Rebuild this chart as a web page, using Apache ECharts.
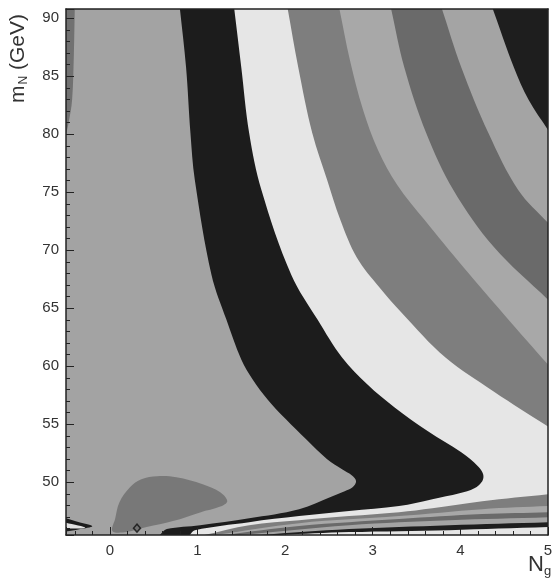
<!DOCTYPE html>
<html>
<head>
<meta charset="utf-8">
<title>N_g vs m_N</title>
<script src="https://cdn.jsdelivr.net/npm/echarts@6/dist/echarts.min.js"></script>
<style>
html, body { margin: 0; padding: 0; background: #fff; }
#main { width: 552px; height: 581px; }
</style>
</head>
<body>
<div id="main"></div>
<script>
// axis ranges: N_g (x) and m_N in GeV (y)
var ngRange = [-0.5, 5];
var mnRange = [45.45, 90.8];

// contour lines, [Ng, mN]
// 1 sigma island round the minimum (closed loop)
var sigma1 = [[0.03, 45.78], [0.06, 46.82], [0.11, 48.28], [0.23, 49.57], [0.36, 50.26], [0.54, 50.52],
  [0.76, 50.43], [1.06, 49.83], [1.26, 49.14], [1.34, 48.37], [1.26, 47.90], [1.03, 47.40],
  [0.72, 46.65], [0.42, 46.13], [0.19, 45.70]];
// the others start at the top edge and come back to the bottom edge
var sigma2 = [[0.80, 90.8], [0.87, 85.78], [0.92, 80.11], [0.97, 76.06], [1.16, 67.89], [1.33, 64.02],
  [1.50, 60.58], [1.63, 58.86], [1.80, 57.14], [2.01, 55.42], [2.24, 53.70], [2.48, 51.98],
  [2.65, 51.12], [2.76, 50.60], [2.81, 50.09], [2.77, 49.57], [2.68, 49.23], [2.54, 48.80],
  [2.16, 47.68], [1.59, 46.90], [1.03, 46.30], [0.65, 45.96], [0.57, 45.45]];
var sigma3 = [[1.42, 90.8], [1.50, 85.78], [1.59, 80.11], [1.73, 75.20], [2.07, 67.89], [2.37, 64.02],
  [2.65, 60.75], [2.94, 58.43], [3.25, 56.45], [3.63, 54.39], [4.01, 52.58], [4.20, 51.38],
  [4.26, 50.69], [4.25, 50.09], [4.16, 49.48], [3.99, 49.05], [3.68, 48.54], [3.30, 47.94],
  [2.73, 47.51], [2.16, 47.08], [1.59, 46.56], [0.97, 45.87], [0.91, 45.45]];
var sigma4 = [[2.03, 90.8], [2.15, 85.78], [2.31, 80.11], [2.48, 76.06], [2.63, 72.62], [2.82, 69.35],
  [3.08, 66.77], [3.33, 64.62], [3.83, 60.75], [4.38, 57.83], [5, 54.8], [5, 48.97],
  [4.25, 48.37], [3.68, 47.76], [3.30, 47.42], [2.73, 47.08], [2.16, 46.73], [1.59, 46.30], [1.08, 45.45]];
var sigma5 = [[2.62, 90.8], [2.74, 86.39], [2.89, 82.09], [3.06, 78.65], [3.28, 75.63], [3.59, 72.62],
  [4.04, 68.49], [4.50, 64.45], [5, 60.15], [5, 47.94], [4.25, 47.68], [3.30, 47.08], [2.16, 46.47], [1.20, 45.45]];
var sigma6 = [[3.21, 90.8], [3.36, 85.78], [3.61, 80.11], [3.92, 75.20], [4.38, 70.30], [5, 65.74],
  [5, 47.42], [4.25, 47.25], [3.30, 46.82], [2.16, 46.22], [1.31, 45.45]];
var sigma7 = [[3.79, 90.8], [4.01, 85.78], [4.32, 80.11], [4.66, 75.20], [5, 72.37],
  [5, 46.99], [3.87, 46.73], [2.73, 46.30], [1.48, 45.45]];
var sigma8 = [[4.37, 90.8], [4.61, 85.78], [4.78, 82.95], [5, 80.37],
  [5, 46.56], [3.87, 46.30], [2.73, 45.96], [1.71, 45.45]];
var sigma9 = [[5, 90.8], [5, 46.13], [3.87, 45.87], [2.73, 45.70], [1.94, 45.45]];

// bits along the left edge
var leftStrip = [[-0.5, 90.8], [-0.40, 90.8], [-0.41, 87], [-0.43, 83], [-0.47, 81], [-0.5, 80]];
var leftWedgeDark = [[-0.5, 46.9], [-0.35, 46.55], [-0.2, 46.2], [-0.35, 45.95], [-0.5, 45.75]];
var leftWedgeLight = [[-0.5, 46.5], [-0.28, 46.08], [-0.5, 46.0]];

var sigmaLabels = ['1 σ', '2 σ', '3 σ', '4 σ'];
var sigmaLabelPos = [[0.91, 48.37], [2.64, 50.26], [3.64, 50.26], [4.65, 50.26]];
var bestFit = [0.31, 46.04];

// fills, outermost first
var openContours = [sigma9, sigma8, sigma7, sigma6, sigma5, sigma4, sigma3, sigma2];
var openColors = ['#1e1e1e', '#a4a4a4', '#6a6a6a', '#a8a8a8', '#7e7e7e', '#e6e6e6', '#1c1c1c', '#a3a3a3'];
var labelColors = ['#555', '#5c5c5c', '#3c3c3c', '#707070'];

var layers = [];
openContours.forEach(function (c, i) {
  layers.push({ pts: c.concat([[ngRange[0], mnRange[0]], [ngRange[0], mnRange[1]]]), fill: openColors[i] });
});
layers.push({ pts: sigma1, fill: '#787878' });
layers.push({ pts: leftStrip, fill: '#717171' });
layers.push({ pts: leftWedgeDark, fill: '#1c1c1c' });
layers.push({ pts: leftWedgeLight, fill: '#e2e2e2' });

function onFrame(p) {
  return p[0] <= ngRange[0] || p[0] >= ngRange[1] || p[1] <= mnRange[0] || p[1] >= mnRange[1];
}

function renderLayer(params, api) {
  var layer = layers[params.dataIndex];
  var pts = [];
  layer.pts.forEach(function (p) {
    var c = api.coord(p);
    pts.push(c);
    // doubled points keep the corners on the frame sharp when smoothing
    if (onFrame(p)) pts.push([c[0], c[1]]);
  });
  return {
    type: 'polygon',
    z2: params.dataIndex,
    shape: { points: pts, smooth: 0.35 },
    style: { fill: layer.fill, stroke: null }
  };
}

var axisColor = '#222';
var labelFont = 'Liberation Sans, Arial, sans-serif';

var myChart = echarts.init(document.getElementById('main'), null, { renderer: 'canvas' });
myChart.setOption({
  animation: false,
  backgroundColor: '#fff',
  grid: {
    left: 66, right: 4, top: 9, bottom: 46,
    outerBoundsMode: 'none',
    show: true, backgroundColor: '#e6e6e6', borderWidth: 0
  },
  xAxis: [
    {
      type: 'value', min: ngRange[0], max: ngRange[1], splitNumber: 5, position: 'bottom', z: 10,
      axisLine: { show: true, onZero: false, lineStyle: { color: axisColor, width: 1.5 } },
      axisTick: { show: true, inside: true, length: 8, lineStyle: { color: axisColor, width: 1 } },
      minorTick: { show: true, splitNumber: 5, length: 4, lineStyle: { color: axisColor, width: 1 } },
      splitLine: { show: false },
      axisLabel: {
        color: '#333', fontSize: 15, fontFamily: labelFont, margin: 8,
        formatter: function (v) { return Math.abs(v - Math.round(v)) < 1e-6 ? String(Math.round(v)) : ''; }
      }
    },
    {
      type: 'value', min: ngRange[0], max: ngRange[1], position: 'top', z: 10,
      axisLine: { show: true, onZero: false, lineStyle: { color: axisColor, width: 1.5 } },
      axisTick: { show: false }, axisLabel: { show: false }, splitLine: { show: false }
    }
  ],
  yAxis: [
    {
      type: 'value', min: mnRange[0], max: mnRange[1], splitNumber: 9, position: 'left', z: 10,
      axisLine: { show: true, onZero: false, lineStyle: { color: axisColor, width: 1.5 } },
      axisTick: { show: true, inside: true, length: 8, lineStyle: { color: axisColor, width: 1 } },
      minorTick: { show: true, splitNumber: 5, length: 4, lineStyle: { color: axisColor, width: 1 } },
      splitLine: { show: false },
      axisLabel: {
        color: '#333', fontSize: 15, fontFamily: labelFont, margin: 7,
        formatter: function (v) { return Math.abs(v / 5 - Math.round(v / 5)) < 1e-6 ? String(Math.round(v)) : ''; }
      }
    },
    {
      type: 'value', min: mnRange[0], max: mnRange[1], position: 'right', z: 10,
      axisLine: { show: true, onZero: false, lineStyle: { color: axisColor, width: 1.5 } },
      axisTick: { show: false }, axisLabel: { show: false }, splitLine: { show: false }
    }
  ],
  graphic: [
    {
      type: 'text', x: 30, y: 103, rotation: Math.PI / 2, z: 20,
      style: {
        text: '{m|m}{s|N}{m| (GeV)}',
        textAlign: 'left', textVerticalAlign: 'bottom', fill: '#333',
        rich: {
          m: { fontSize: 21, lineHeight: 24, fontFamily: labelFont, fill: '#333' },
          s: { fontSize: 12, lineHeight: 14, padding: [12, 0, 0, 1], fontFamily: labelFont, fill: '#333' }
        }
      }
    },
    {
      type: 'text', x: 528, y: 553, z: 20,
      style: {
        text: '{n|N}{s|g}',
        textAlign: 'left', textVerticalAlign: 'top', fill: '#333',
        rich: {
          n: { fontSize: 22, lineHeight: 24, fontFamily: labelFont, fill: '#333' },
          s: { fontSize: 13, lineHeight: 14, padding: [12, 0, 0, 0], fontFamily: labelFont, fill: '#333' }
        }
      }
    }
  ],
  series: [
    {
      type: 'custom',
      coordinateSystem: 'cartesian2d',
      clip: true,
      silent: true,
      z: 2,
      renderItem: renderLayer,
      data: layers.map(function (l, i) { return [i, mnRange[0]]; })
    },
    {
      type: 'scatter',
      z: 3,
      silent: true,
      symbolSize: 1,
      itemStyle: { opacity: 0 },
      label: {
        show: true, position: 'inside', fontSize: 14, fontFamily: labelFont,
        formatter: function (p) { return p.name; }
      },
      data: sigmaLabels.map(function (t, i) {
        return { name: t, value: sigmaLabelPos[i], label: { color: labelColors[i] } };
      })
    },
    {
      type: 'scatter',
      z: 4,
      silent: true,
      symbol: 'diamond',
      symbolSize: [7, 8],
      itemStyle: { color: '#6e6e6e', borderColor: '#111', borderWidth: 1.5 },
      data: [bestFit]
    }
  ]
});
</script>
</body>
</html>
